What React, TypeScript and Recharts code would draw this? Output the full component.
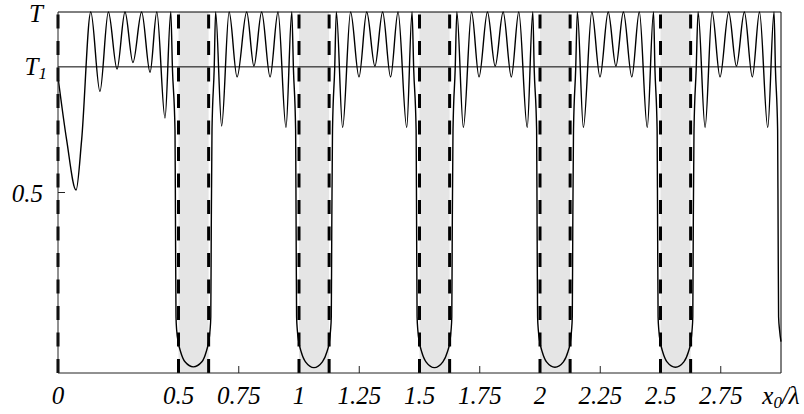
import { LineChart, Line, XAxis, YAxis, ReferenceLine, ReferenceArea } from "recharts"

// [x0/λ, T], segment by segment
const startSegment = [
  [0, 0.82], [0.036, 0.645], [0.075, 0.507], [0.098, 0.645], [0.136, 1],
  [0.174, 0.78], [0.209, 1], [0.245, 0.842], [0.278, 1], [0.311, 0.86],
  [0.347, 1], [0.382, 0.833], [0.41, 1], [0.444, 0.706], [0.468, 1],
]
const dip05 = [
  [0.475, 0.84], [0.4855, 0.673], [0.4876, 0.4], [0.4896, 0.156], [0.4924, 0.119],
  [0.4996, 0.083], [0.5087, 0.059], [0.527, 0.031], [0.5615, 0.017], [0.597, 0.031],
  [0.615, 0.059], [0.624, 0.083], [0.631, 0.119], [0.634, 0.156], [0.636, 0.4],
  [0.639, 0.673], [0.648, 0.84], [0.654, 1],
]
const ripple05 = [
  [0.679, 0.684], [0.71, 1], [0.743, 0.82], [0.783, 1], [0.813, 0.85],
  [0.845, 1], [0.88, 0.82], [0.913, 1], [0.946, 0.68], [0.97, 1],
]
const dip10 = [
  [0.977, 0.84], [0.986, 0.673], [0.988, 0.4], [0.99, 0.156], [0.993, 0.119],
  [1.0, 0.083], [1.009, 0.059], [1.027, 0.031], [1.062, 0.015], [1.097, 0.031],
  [1.116, 0.059], [1.125, 0.083], [1.131, 0.119], [1.134, 0.156], [1.136, 0.4],
  [1.139, 0.673], [1.148, 0.84], [1.155, 1],
]
const ripple10 = [
  [1.181, 0.68], [1.214, 1], [1.249, 0.82], [1.281, 1], [1.315, 0.85],
  [1.347, 1], [1.38, 0.82], [1.411, 1], [1.447, 0.68], [1.469, 1],
]
const dip15 = [
  [1.476, 0.84], [1.486, 0.673], [1.488, 0.4], [1.49, 0.156], [1.493, 0.119],
  [1.5, 0.083], [1.509, 0.059], [1.527, 0.031], [1.562, 0.015], [1.597, 0.031],
  [1.616, 0.059], [1.625, 0.083], [1.631, 0.119], [1.634, 0.156], [1.636, 0.4],
  [1.639, 0.673], [1.648, 0.84], [1.655, 1],
]
const ripple15 = [
  [1.682, 0.68], [1.716, 1], [1.747, 0.82], [1.782, 1], [1.814, 0.85],
  [1.847, 1], [1.881, 0.82], [1.912, 1], [1.947, 0.68], [1.97, 1],
]
const dip20 = [
  [1.976, 0.84], [1.986, 0.673], [1.988, 0.4], [1.99, 0.156], [1.993, 0.119],
  [2.0, 0.083], [2.009, 0.059], [2.027, 0.031], [2.062, 0.016], [2.097, 0.031],
  [2.116, 0.059], [2.125, 0.083], [2.131, 0.119], [2.134, 0.156], [2.136, 0.4],
  [2.139, 0.673], [2.148, 0.84], [2.155, 1],
]
const ripple20 = [
  [2.18, 0.68], [2.215, 1], [2.249, 0.82], [2.283, 1], [2.315, 0.85],
  [2.346, 1], [2.381, 0.82], [2.412, 1], [2.445, 0.68], [2.471, 1],
]
const dip25 = [
  [2.477, 0.84], [2.486, 0.673], [2.488, 0.4], [2.49, 0.156], [2.493, 0.119],
  [2.5, 0.083], [2.509, 0.059], [2.527, 0.031], [2.562, 0.016], [2.597, 0.031],
  [2.616, 0.059], [2.625, 0.083], [2.631, 0.119], [2.634, 0.156], [2.636, 0.4],
  [2.639, 0.673], [2.648, 0.84], [2.656, 1],
]
const ripple25 = [
  [2.685, 0.68], [2.714, 1], [2.747, 0.82], [2.783, 1], [2.815, 0.85],
  [2.848, 1], [2.881, 0.82], [2.911, 1], [2.945, 0.68], [2.971, 1],
]
const endSegment = [
  [2.977, 0.84], [2.986, 0.673], [2.988, 0.4], [2.99, 0.156], [2.994, 0.119], [3.0, 0.087],
]

const bands = [[0.5, 0.625], [1, 1.125], [1.5, 1.625], [2, 2.125], [2.5, 2.625]]
const dashedAt = [0, 0.5, 0.625, 1, 1.125, 1.5, 1.625, 2, 2.125, 2.5, 2.625]

const T1 = 0.848
const xTicks = [0, 0.5, 0.75, 1, 1.25, 1.5, 1.75, 2, 2.25, 2.5, 2.75, 3]
const xTickLabels = ["0", "0.5", "0.75", "1", "1.25", "1.5", "1.75", "2", "2.25", "2.5", "2.75", "x0/λ"]
const minorTicks = [0.75, 1.25, 1.75, 2.25, 2.75]
const yTicks = [0.5, T1, 1]

const data = [
  ...startSegment, ...dip05, ...ripple05, ...dip10, ...ripple10, ...dip15,
  ...ripple15, ...dip20, ...ripple20, ...dip25, ...ripple25, ...endSegment,
].map(([x, t]) => ({ x, t }))

const FONT = "'Liberation Serif', 'Times New Roman', serif"
const FS = 25
const SUB = 17

function XTick(props: any) {
  const { x, y, payload } = props
  const v = payload.value
  const i = xTicks.indexOf(v)
  return (
    <g>
      {minorTicks.includes(v) && <line x1={x} x2={x} y1={y} y2={y - 7} stroke="#222" strokeWidth={1} />}
      {v === 3 ? (
        <text x={x} y={y + 31} textAnchor="middle" fontFamily={FONT} fontStyle="italic" fontSize={FS} fill="#000">
          <tspan>x</tspan>
          <tspan fontSize={SUB} dy={4}>0</tspan>
          <tspan dy={-4}>/λ</tspan>
        </text>
      ) : (
        <text x={x} y={y + 31} textAnchor="middle" fontFamily={FONT} fontStyle="italic" fontSize={FS} fill="#000">
          {xTickLabels[i]}
        </text>
      )}
    </g>
  )
}

function YTick(props: any) {
  const { x, y, payload } = props
  const v = payload.value
  if (v === 1) {
    return (
      <text x={x - 15} y={y + 10} textAnchor="end" fontFamily={FONT} fontStyle="italic" fontSize={FS} fill="#000">
        T
      </text>
    )
  }
  if (v === T1) {
    return (
      <text x={x - 11} y={y + 8} textAnchor="end" fontFamily={FONT} fontStyle="italic" fontSize={FS} fill="#000">
        <tspan>T</tspan>
        <tspan fontSize={SUB} dy={4}>1</tspan>
      </text>
    )
  }
  return (
    <g>
      <line x1={x} x2={x + 7} y1={y} y2={y} stroke="#222" strokeWidth={1} />
      <text x={x - 15} y={y + 9} textAnchor="end" fontFamily={FONT} fontStyle="italic" fontSize={FS} fill="#000">
        0.5
      </text>
    </g>
  )
}

export default function App() {
  return (
    <div style={{ position: "absolute", left: 0, top: 0, background: "#fff" }}>
      <LineChart width={804} height={414} data={data} margin={{ top: 12, right: 23, bottom: 0, left: 0 }}>
        <XAxis
          type="number"
          dataKey="x"
          domain={[0, 3]}
          ticks={xTicks}
          tick={<XTick />}
          tickLine={false}
          tickSize={0}
          tickMargin={0}
          height={41}
          axisLine={{ stroke: "#222", strokeWidth: 1 }}
          interval={0}
        />
        <YAxis
          type="number"
          domain={[0, 1]}
          ticks={yTicks}
          tick={<YTick />}
          tickLine={false}
          tickSize={0}
          tickMargin={0}
          width={58}
          axisLine={{ stroke: "#222", strokeWidth: 1 }}
          interval={0}
        />
        {bands.map(([a, b]) => (
          <ReferenceArea key={a} x1={a} x2={b} fill="#e5e5e5" fillOpacity={1} stroke="none" />
        ))}
        <ReferenceLine y={1} stroke="#000" strokeWidth={1} />
        <ReferenceLine x={3} stroke="#000" strokeWidth={1} />
        <ReferenceLine y={T1} stroke="#000" strokeWidth={1} />
        {dashedAt.map((d) => (
          <ReferenceLine key={d} x={d} stroke="#000" strokeWidth={3} strokeDasharray="14 12.5" />
        ))}
        <Line
          type="monotone"
          dataKey="t"
          stroke="#000"
          strokeWidth={1.4}
          dot={false}
          isAnimationActive={false}
        />
      </LineChart>
    </div>
  )
}
